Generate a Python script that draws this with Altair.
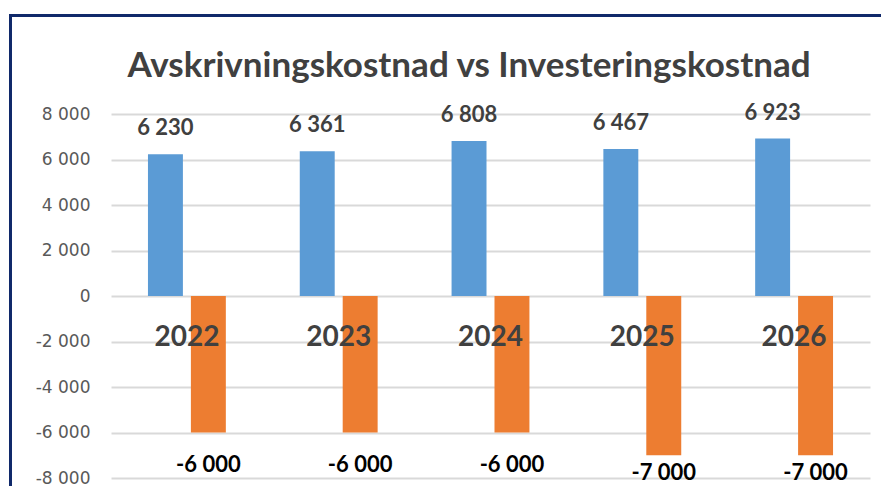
import altair as alt
import pandas as pd

title_text = "Avskrivningskostnad vs Investeringskostnad"
years = ["2022", "2023", "2024", "2025", "2026"]
avskrivning = [6230, 6361, 6808, 6467, 6923]
investering = [-6000, -6000, -6000, -7000, -7000]
series_names = ["Avskrivningskostnad", "Investeringskostnad"]
colors = ["#5b9bd5", "#ed7d31"]
y_ticks = [-8000, -6000, -4000, -2000, 0, 2000, 4000, 6000, 8000]


def fmt(v):
    return ("-" if v < 0 else "") + f"{abs(v):,}".replace(",", " ")


rows = []
for i, y in enumerate(years):
    rows.append({"year": y, "series": series_names[0], "value": avskrivning[i], "label": fmt(avskrivning[i])})
    rows.append({"year": y, "series": series_names[1], "value": investering[i], "label": fmt(investering[i])})
df = pd.DataFrame(rows)
years_df = pd.DataFrame({"year": years, "zero": [0] * len(years)})
title_df = pd.DataFrame({"title": [title_text]})

x_enc = alt.X("year:N", sort=years, axis=None,
              scale=alt.Scale(paddingInner=0.487, paddingOuter=0.2435))
xoff_enc = alt.XOffset("series:N", sort=series_names,
                       scale=alt.Scale(paddingInner=0.186, paddingOuter=0))
y_scale = alt.Scale(domain=[-8000, 8000], nice=False)

base = alt.Chart(df)

bars = base.mark_bar().encode(
    x=x_enc,
    xOffset=xoff_enc,
    y=alt.Y("value:Q", scale=y_scale, title=None,
            axis=alt.Axis(values=y_ticks, grid=True, gridColor="#d9d9d9", gridWidth=2,
                          domain=False, ticks=False, labelPadding=21,
                          labelFont="DejaVu Sans", labelFontSize=17, labelColor="#595959",
                          labelExpr="(datum.value < 0 ? '-' : '') + replace(format(abs(datum.value), ','), ',', ' ')")),
    color=alt.Color("series:N", sort=series_names,
                    scale=alt.Scale(domain=series_names, range=colors), legend=None),
)

pos_labels = base.transform_filter("datum.value >= 0").mark_text(
    font="Lato", fontWeight="bold", fontSize=22, color="#404040", baseline="middle", dy=-26
).encode(x=x_enc, xOffset=xoff_enc, y=alt.Y("value:Q", scale=y_scale), text="label:N")

neg_labels = base.transform_filter("datum.value < 0 && datum.value > -6500").mark_text(
    font="Lato", fontWeight="bold", fontSize=22, color="#000000", baseline="middle", dy=32
).encode(x=x_enc, xOffset=xoff_enc, y=alt.Y("value:Q", scale=y_scale), text="label:N")

neg_labels_low = base.transform_filter("datum.value <= -6500").mark_text(
    font="Lato", fontWeight="bold", fontSize=22, color="#000000", baseline="middle", dy=18
).encode(x=x_enc, xOffset=xoff_enc, y=alt.Y("value:Q", scale=y_scale), text="label:N")

year_labels = alt.Chart(years_df).mark_text(
    font="Lato", fontWeight="bold", fontSize=28, color="#404040", baseline="middle", dy=42
).encode(x=x_enc, y=alt.Y("zero:Q", scale=y_scale), text="year:N")

title_mark = alt.Chart(title_df).mark_text(
    font="Lato", fontWeight="bold", fontSize=35, color="#404040",
    align="center", baseline="alphabetic"
).encode(x=alt.value(358), y=alt.value(-37), text="title:N")

frame = alt.Chart(years_df).mark_rect(
    fill=None, fillOpacity=0, stroke="#10296a", strokeWidth=3
).encode(x=alt.value(-100.5), x2=alt.value(820), y=alt.value(-98.5), y2=alt.value(420))

chart = alt.layer(bars, pos_labels, neg_labels, neg_labels_low, year_labels, title_mark, frame).properties(
    width=759,
    height=364,
    padding={"left": 103, "top": 106, "right": 11, "bottom": 8},
    autosize=alt.AutoSizeParams(type="none"),
    background="white",
).configure_view(stroke=None)

chart.save("out.html", embed_options={"renderer": "svg", "actions": False})
